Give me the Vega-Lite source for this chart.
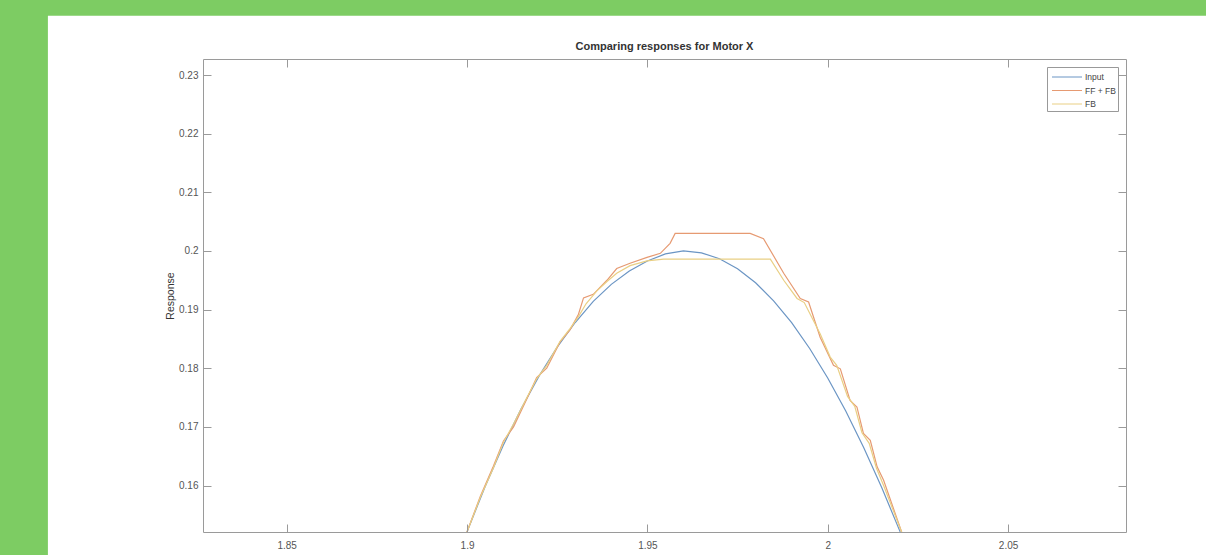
{
  "$schema": "https://vega.github.io/schema/vega-lite/v6.json",
  "width": 923,
  "height": 473,
  "autosize": {"type": "none"},
  "padding": {"left": 203, "top": 59, "right": 80, "bottom": 23},
  "background": "#7dcc63",
  "title": {"text": "Comparing responses for Motor X", "font": "Liberation Sans", "fontSize": 11, "fontWeight": "bold", "color": "#333333", "anchor": "middle", "frame": "group", "offset": 6, "dy": 42, "zindex": 2},
  "config": {
    "view": {"stroke": null},
    "axis": {"grid": false, "domainColor": "#9a9a9a", "tickColor": "#9a9a9a", "tickSize": -8, "labelColor": "#555555", "labelFont": "Liberation Sans", "labelFontSize": 10, "titleFont": "Liberation Sans", "titleFontSize": 10.5, "titleFontWeight": "normal", "titleColor": "#333333", "zindex": 2},
    "legend": {"zindex": 2}
  },
  "datasets": {
    "frame": [{"x1": 1.7838, "x2": 2.3, "y1": 0.2401, "y2": 0.10}],
    "lines": [
      {"s": "Input", "x": 1.895, "y": 0.1440},
      {"s": "Input", "x": 1.900, "y": 0.1521},
      {"s": "Input", "x": 1.905, "y": 0.1598},
      {"s": "Input", "x": 1.910, "y": 0.1668},
      {"s": "Input", "x": 1.915, "y": 0.1731},
      {"s": "Input", "x": 1.920, "y": 0.1787},
      {"s": "Input", "x": 1.925, "y": 0.1836},
      {"s": "Input", "x": 1.930, "y": 0.1878},
      {"s": "Input", "x": 1.935, "y": 0.1914},
      {"s": "Input", "x": 1.940, "y": 0.1943},
      {"s": "Input", "x": 1.945, "y": 0.1966},
      {"s": "Input", "x": 1.950, "y": 0.1983},
      {"s": "Input", "x": 1.955, "y": 0.1995},
      {"s": "Input", "x": 1.960, "y": 0.2000},
      {"s": "Input", "x": 1.965, "y": 0.19968},
      {"s": "Input", "x": 1.970, "y": 0.19867},
      {"s": "Input", "x": 1.975, "y": 0.19696},
      {"s": "Input", "x": 1.980, "y": 0.19457},
      {"s": "Input", "x": 1.985, "y": 0.19150},
      {"s": "Input", "x": 1.990, "y": 0.18777},
      {"s": "Input", "x": 1.995, "y": 0.18337},
      {"s": "Input", "x": 2.000, "y": 0.17835},
      {"s": "Input", "x": 2.005, "y": 0.17270},
      {"s": "Input", "x": 2.010, "y": 0.16645},
      {"s": "Input", "x": 2.015, "y": 0.15962},
      {"s": "Input", "x": 2.020, "y": 0.15223},
      {"s": "Input", "x": 2.025, "y": 0.14432},
      {"s": "FF + FB", "x": 1.895, "y": 0.1432},
      {"s": "FF + FB", "x": 1.900, "y": 0.1521},
      {"s": "FF + FB", "x": 1.9037, "y": 0.1582},
      {"s": "FF + FB", "x": 1.9073, "y": 0.1633},
      {"s": "FF + FB", "x": 1.9101, "y": 0.1676},
      {"s": "FF + FB", "x": 1.9129, "y": 0.1700},
      {"s": "FF + FB", "x": 1.9166, "y": 0.1748},
      {"s": "FF + FB", "x": 1.9193, "y": 0.1784},
      {"s": "FF + FB", "x": 1.9221, "y": 0.1800},
      {"s": "FF + FB", "x": 1.9258, "y": 0.1845},
      {"s": "FF + FB", "x": 1.9286, "y": 0.1866},
      {"s": "FF + FB", "x": 1.9309, "y": 0.1892},
      {"s": "FF + FB", "x": 1.9323, "y": 0.1920},
      {"s": "FF + FB", "x": 1.9350, "y": 0.1926},
      {"s": "FF + FB", "x": 1.9388, "y": 0.1950},
      {"s": "FF + FB", "x": 1.9415, "y": 0.1970},
      {"s": "FF + FB", "x": 1.9452, "y": 0.1979},
      {"s": "FF + FB", "x": 1.9499, "y": 0.1989},
      {"s": "FF + FB", "x": 1.9536, "y": 0.1996},
      {"s": "FF + FB", "x": 1.9563, "y": 0.2013},
      {"s": "FF + FB", "x": 1.9577, "y": 0.2030},
      {"s": "FF + FB", "x": 1.9785, "y": 0.2030},
      {"s": "FF + FB", "x": 1.9822, "y": 0.2021},
      {"s": "FF + FB", "x": 1.9878, "y": 0.1962},
      {"s": "FF + FB", "x": 1.9924, "y": 0.1919},
      {"s": "FF + FB", "x": 1.9947, "y": 0.1913},
      {"s": "FF + FB", "x": 1.9979, "y": 0.1853},
      {"s": "FF + FB", "x": 2.0016, "y": 0.1805},
      {"s": "FF + FB", "x": 2.0035, "y": 0.1799},
      {"s": "FF + FB", "x": 2.0062, "y": 0.1745},
      {"s": "FF + FB", "x": 2.0081, "y": 0.1734},
      {"s": "FF + FB", "x": 2.0099, "y": 0.1689},
      {"s": "FF + FB", "x": 2.0118, "y": 0.1677},
      {"s": "FF + FB", "x": 2.0137, "y": 0.1632},
      {"s": "FF + FB", "x": 2.0155, "y": 0.1609},
      {"s": "FF + FB", "x": 2.0206, "y": 0.1519},
      {"s": "FF + FB", "x": 2.0225, "y": 0.1490},
      {"s": "FB", "x": 1.895, "y": 0.1430},
      {"s": "FB", "x": 1.900, "y": 0.1521},
      {"s": "FB", "x": 1.9037, "y": 0.1580},
      {"s": "FB", "x": 1.9073, "y": 0.1630},
      {"s": "FB", "x": 1.9101, "y": 0.1674},
      {"s": "FB", "x": 1.9129, "y": 0.1705},
      {"s": "FB", "x": 1.9166, "y": 0.1750},
      {"s": "FB", "x": 1.9193, "y": 0.1782},
      {"s": "FB", "x": 1.9221, "y": 0.1805},
      {"s": "FB", "x": 1.9258, "y": 0.1846},
      {"s": "FB", "x": 1.9286, "y": 0.1868},
      {"s": "FB", "x": 1.9309, "y": 0.1888},
      {"s": "FB", "x": 1.9330, "y": 0.1910},
      {"s": "FB", "x": 1.9360, "y": 0.1932},
      {"s": "FB", "x": 1.9388, "y": 0.1948},
      {"s": "FB", "x": 1.9415, "y": 0.1962},
      {"s": "FB", "x": 1.9452, "y": 0.1975},
      {"s": "FB", "x": 1.9499, "y": 0.1983},
      {"s": "FB", "x": 1.9545, "y": 0.1986},
      {"s": "FB", "x": 1.9841, "y": 0.1986},
      {"s": "FB", "x": 1.9878, "y": 0.1950},
      {"s": "FB", "x": 1.9915, "y": 0.1919},
      {"s": "FB", "x": 1.9935, "y": 0.1912},
      {"s": "FB", "x": 1.9979, "y": 0.1859},
      {"s": "FB", "x": 2.0007, "y": 0.1819},
      {"s": "FB", "x": 2.0025, "y": 0.1805},
      {"s": "FB", "x": 2.0055, "y": 0.1752},
      {"s": "FB", "x": 2.0075, "y": 0.1735},
      {"s": "FB", "x": 2.0095, "y": 0.1690},
      {"s": "FB", "x": 2.0115, "y": 0.1672},
      {"s": "FB", "x": 2.0135, "y": 0.1630},
      {"s": "FB", "x": 2.0155, "y": 0.1600},
      {"s": "FB", "x": 2.0206, "y": 0.1519},
      {"s": "FB", "x": 2.0225, "y": 0.1488}
    ]
  },
  "layer": [
    {
      "data": {"name": "frame"},
      "mark": {"type": "rect", "fill": "white", "clip": false},
      "encoding": {
        "x": {"field": "x1", "type": "quantitative", "scale": {"domain": [1.8268, 2.0827], "nice": false, "zero": false}, "axis": null},
        "x2": {"field": "x2"},
        "y": {"field": "y1", "type": "quantitative", "scale": {"domain": [0.15208, 0.23273], "nice": false, "zero": false}, "axis": null},
        "y2": {"field": "y2"}
      }
    },
    {
      "data": {"name": "lines"},
      "mark": {"type": "line", "clip": true, "strokeWidth": 1.2},
      "encoding": {
        "x": {"field": "x", "type": "quantitative", "axis": {"orient": "bottom", "values": [1.85, 1.9, 1.95, 2, 2.05], "format": "~g", "title": null, "labelPadding": 16, "zindex": 2}},
        "y": {"field": "y", "type": "quantitative", "axis": {"orient": "left", "values": [0.16, 0.17, 0.18, 0.19, 0.2, 0.21, 0.22, 0.23], "format": "~g", "title": "Response", "labelPadding": 13, "titlePadding": 3, "zindex": 2}},
        "color": {
          "field": "s", "type": "nominal",
          "scale": {"domain": ["Input", "FF + FB", "FB"], "range": ["#6b95c4", "#e69a72", "#e9cf84"]},
          "legend": {"title": null, "orient": "top-right", "offset": 8, "strokeColor": "#999999", "fillColor": "white", "padding": 2, "symbolType": "M-2,0H2", "symbolSize": 225, "symbolStrokeWidth": 1, "symbolOffset": 10, "labelOffset": 10, "labelFont": "Liberation Sans", "labelFontSize": 8.5, "labelColor": "#444444", "rowPadding": 0.5, "zindex": 2}
        }
      }
    },
    {
      "data": {"name": "lines"},
      "mark": {"type": "point", "opacity": 0},
      "encoding": {
        "x": {"field": "x", "type": "quantitative", "axis": {"orient": "top", "values": [1.85, 1.9, 1.95, 2, 2.05], "labels": false, "title": null, "zindex": 2}},
        "y": {"field": "y", "type": "quantitative", "axis": {"orient": "right", "values": [0.16, 0.17, 0.18, 0.19, 0.2, 0.21, 0.22, 0.23], "labels": false, "title": null, "zindex": 2}}
      }
    }
  ],
  "resolve": {"axis": {"x": "independent", "y": "independent"}}
}
